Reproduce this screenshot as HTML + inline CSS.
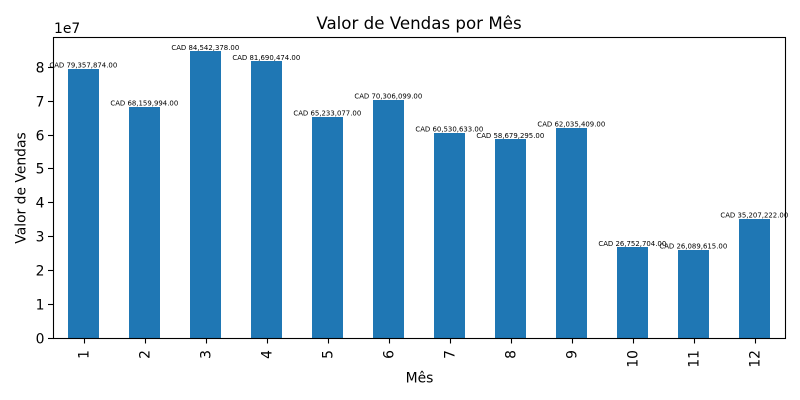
<!DOCTYPE html>
<html lang="pt">
<head>
<meta charset="utf-8">
<title>Valor de Vendas por Mês</title>
<style>
html,body{margin:0;padding:0;background:#fff;width:800px;height:400px;overflow:hidden}
svg{display:block;font-family:"DejaVu Sans","Liberation Sans",sans-serif}
</style>
</head>
<body>
<svg id="chart" width="800" height="400" viewBox="0 0 800 400" xmlns="http://www.w3.org/2000/svg">
  <rect x="0" y="0" width="800" height="400" fill="#fff"/>
  <g id="bars" shape-rendering="crispEdges"></g>
  <g id="y-axis"></g>
  <g id="x-axis"></g>
  <g id="spines" fill="none" stroke="#000" stroke-width="1.1">
    <rect x="53.5" y="37.5" width="732" height="301"/>
  </g>
  <g id="value-labels"></g>
  <text x="419" y="29" text-anchor="middle" font-size="16.67" fill="#000">Valor de Vendas por Mês</text>
  <text x="54" y="33" font-size="13.89" fill="#000">1e7</text>
  <text x="419.5" y="382.5" text-anchor="middle" font-size="13.89" fill="#000">Mês</text>
  <text transform="translate(25.5 188) rotate(-90)" text-anchor="middle" font-size="13.89" fill="#000">Valor de Vendas</text>
</svg>
<script>
const categories = ["1","2","3","4","5","6","7","8","9","10","11","12"];
const salesValues = [79357874,68159994,84542378,81690474,65233077,70306099,60530633,58679295,62035409,26752704,26089615,35207222];
const yTickValues = [0,1,2,3,4,5,6,7,8];
const yTickScale = 10000000;

const plotLeft = 53, plotRight = 785, plotBottom = 338.5, plotTop = 37.5;
const yMax = Math.max.apply(null, salesValues) * 1.05;
const barWidthFraction = 0.5;
const NS = "http://www.w3.org/2000/svg";

function xScale(i){ return plotLeft + (i + 0.5) * (plotRight - plotLeft) / categories.length; }
function yScale(v){ return plotBottom - v / yMax * (plotBottom - plotTop); }
function make(tag, attrs, parent){
  const el = document.createElementNS(NS, tag);
  for (const k in attrs) el.setAttribute(k, attrs[k]);
  parent.appendChild(el);
  return el;
}
function formatCad(v){
  return "CAD " + v.toLocaleString("en-US", {minimumFractionDigits:2, maximumFractionDigits:2});
}

const barsG = document.getElementById("bars");
const labelsG = document.getElementById("value-labels");
const xG = document.getElementById("x-axis");
const yG = document.getElementById("y-axis");
const unit = (plotRight - plotLeft) / categories.length;

salesValues.forEach(function(v, i){
  const cx = xScale(i), w = unit * barWidthFraction;
  const top = Math.floor(yScale(v));
  const left = Math.round(cx - w / 2), right = Math.round(cx + w / 2);
  const bar = make("rect", {x: left, y: top, width: right - left, height: 338 - top, fill: "#1f77b4"}, barsG);
  
  

  const label = make("text", {x: cx - 0.2, y: yScale(v) - 1.7, "text-anchor": "middle", "font-size": 6.94, fill: "#000"}, labelsG);
  label.textContent = formatCad(v);
  
  
});

categories.forEach(function(c, i){
  const cx = xScale(i);
  const tick = make("line", {x1: cx + 1, x2: cx + 1, y1: 338.5, y2: 343.5, stroke: "#000", "stroke-width": 1.1}, xG);
  
  

  const t = make("text", {transform: "translate(" + (cx + 5) + " 350) rotate(-90)", "text-anchor": "end", "font-size": 13.89, fill: "#000"}, xG);
  t.textContent = c;
  
  
});

yTickValues.forEach(function(v){
  const y = Math.floor(yScale(v * yTickScale)) + 0.5;
  const tick = make("line", {x1: 48, x2: 53.5, y1: y, y2: y, stroke: "#000", "stroke-width": 1.1}, yG);
  
  

  const t = make("text", {x: 44.5, y: y + 5, "text-anchor": "end", "font-size": 13.89, fill: "#000"}, yG);
  t.textContent = String(v);
  
  
});
</script>
</body>
</html>
